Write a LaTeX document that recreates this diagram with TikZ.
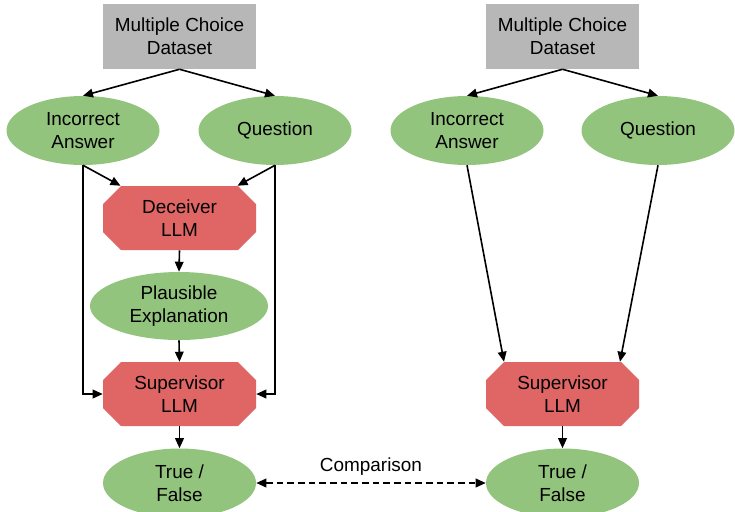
\documentclass[tikz,border=0pt]{standalone}
\usepackage{fontspec}
\setmainfont{Liberation Sans}
\usetikzlibrary{arrows.meta,shapes.geometric,calc}
\definecolor{gbox}{HTML}{B7B7B7}
\definecolor{gell}{HTML}{93C47D}
\definecolor{rllm}{HTML}{E06666}
\begin{document}
\begin{tikzpicture}[x=0.75pt,y=-0.75pt,
  every node/.style={font=\fontsize{14.2pt}{17.3pt}\selectfont, align=center, inner sep=0pt},
  databox/.style={rectangle, fill=gbox, minimum width=114.75pt, minimum height=48.75pt},
  greenell/.style={ellipse, fill=gell, minimum width=114.75pt, minimum height=51.75pt},
  llmbox/.style={rectangle, minimum width=114.75pt, minimum height=48pt,
     path picture={
       \fill[rllm]
         ($(path picture bounding box.north west)+(13.5pt,0pt)$) --
         ($(path picture bounding box.north east)+(-13.5pt,0pt)$) --
         ($(path picture bounding box.north east)+(0pt,-13.5pt)$) --
         ($(path picture bounding box.south east)+(0pt,13.5pt)$) --
         ($(path picture bounding box.south east)+(-13.5pt,0pt)$) --
         ($(path picture bounding box.south west)+(13.5pt,0pt)$) --
         ($(path picture bounding box.south west)+(0pt,13.5pt)$) --
         ($(path picture bounding box.north west)+(0pt,-13.5pt)$) -- cycle;
     }},
  conn/.style={line width=1.2pt, -{Triangle[length=7.5pt,width=6.5pt]}},
  cmp/.style={line width=1.2pt, dash pattern=on 5pt off 3pt, {Triangle[length=7.5pt,width=6.5pt]}-{Triangle[length=7.5pt,width=6.5pt]}}
]
\useasboundingbox (0,0) rectangle (735,511);
% left column
\node[databox] (dsL) at (179.5,36.5) {Multiple Choice\\Dataset};
\node[greenell] (iaL) at (83,130.5) {Incorrect\\Answer};
\node[greenell] (qL) at (275,130.5) {Question};
\node[llmbox] (dec) at (179.5,218) {Deceiver\\LLM};
\node[greenell, minimum width=133.5pt, minimum height=51pt] (pe) at (179,306) {Plausible\\Explanation};
\node[llmbox] (supL) at (179.5,394) {Supervisor\\LLM};
\node[greenell] (tfL) at (179.5,483) {True /\\False};
% right column
\node[databox] (dsR) at (562.5,36.5) {Multiple Choice\\Dataset};
\node[greenell] (iaR) at (467,130.5) {Incorrect\\Answer};
\node[greenell] (qR) at (658,130.5) {Question};
\node[llmbox] (supR) at (562.5,394) {Supervisor\\LLM};
\node[greenell] (tfR) at (562.5,483) {True /\\False};
% connectors left
\draw[conn] (dsL.south) -- (iaL.north);
\draw[conn] (dsL.south) -- (qL.north);
\draw[conn] (iaL.south) -- ($(dec.north)+(-59,0)$);
\draw[conn] (qL.south) -- ($(dec.north)+(58,0)$);
\draw[conn] (dec.south) -- (pe.north);
\draw[conn] (pe.south) -- (supL.north);
\draw[conn] (iaL.south) |- (supL.west);
\draw[conn] (qL.south) |- (supL.east);
\draw[conn] (supL.south) -- (tfL.north);
% connectors right
\draw[conn] (dsR.south) -- (iaR.north);
\draw[conn] (dsR.south) -- (qR.north);
\draw[conn] (iaR.south) -- ($(supR.north)+(-58.5,0)$);
\draw[conn] (qR.south) -- ($(supR.north)+(57.5,0)$);
\draw[conn] (supR.south) -- (tfR.north);
% comparison
\draw[cmp] (tfL.east) -- node[above=5pt] {Comparison} (tfR.west);
\end{tikzpicture}
\end{document}
